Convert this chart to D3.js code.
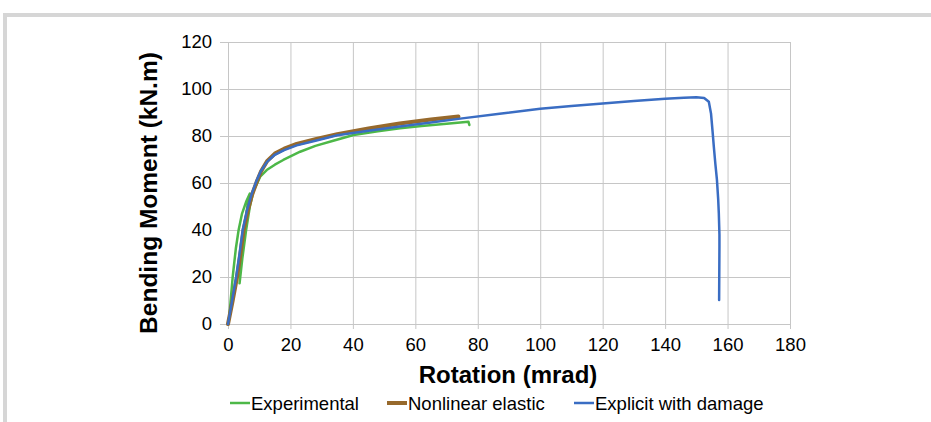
<!DOCTYPE html>
<html lang="en">
<head>
  <meta charset="UTF-8">
  <title>Bending moment vs rotation</title>
  <script src="https://cdnjs.cloudflare.com/ajax/libs/d3/7.8.5/d3.min.js"></script>
  <style>
    body { margin: 0; background: #fff; }
    #chart { width: 931px; height: 422px; }
    text { font-family: "Liberation Sans", Arial, sans-serif; fill: #000; }
  </style>
</head>
<body>
  <div id="chart"></div>
  <script>
    // values
    const xTicks = [0, 20, 40, 60, 80, 100, 120, 140, 160, 180];
    const yTicks = [0, 20, 40, 60, 80, 100, 120];

    const expRot = [0, 0.4, 1.5, 2.5, 3.4, 4.5, 5.8, 7, 6.2, 4.8, 3.7, 4.6, 5.8, 7, 8.1, 10.3, 12.4, 15, 17.7, 23.1, 28, 33.7, 40.2, 48, 55.1, 62, 70, 77, 77.3];
    const expMom = [0, 3, 20, 32, 40, 47, 52, 55.5, 50, 35, 17.3, 28, 40, 50, 56.3, 62.7, 65.5, 67.8, 69.8, 73.3, 75.8, 78, 80.4, 82, 83.3, 84.3, 85.2, 86.1, 84.7];

    const nlRot = [0, 1.5, 2.9, 4, 5, 6.3, 7.7, 9.2, 10.6, 12.5, 15, 18, 22, 28, 35, 45, 55, 65, 73.8];
    const nlMom = [0, 10, 20, 30, 40, 48, 55, 60.5, 65, 69.3, 72.5, 74.6, 76.6, 78.6, 80.8, 83.2, 85.3, 87, 88.3];

    const dmgRot = [0, 1.2, 2.6, 3.7, 4.7, 6, 7.5, 9, 10.5, 12.5, 15, 18, 22, 28, 35, 45, 55, 65, 75, 87, 100, 110, 120, 130, 140, 146, 150, 152.5, 154, 154.7, 155.2, 155.6, 156.1, 156.6, 157, 157.2, 157.4, 157.4, 157.3];
    const dmgMom = [0, 9, 20, 30, 40, 48, 55, 60.5, 65, 69, 72, 74, 76, 78, 80.3, 82.2, 84, 85.7, 87.5, 89.5, 91.6, 92.8, 93.8, 94.9, 95.9, 96.3, 96.5, 96.2, 94.6, 89.6, 82, 75.5, 68, 61.3, 53, 47.1, 38, 32.9, 10.2];

    const seriesNames = ["Experimental", "Nonlinear elastic", "Explicit with damage"];
    const seriesColors = ["#4db848", "#97692c", "#3a6dc3"];
    const seriesWidths = [2.5, 4, 2.5];

    const series = [
      d3.zip(expRot, expMom),
      d3.zip(nlRot, nlMom),
      d3.zip(dmgRot, dmgMom)
    ];

    const svg = d3.select("#chart").append("svg")
      .attr("width", 931)
      .attr("height", 422);

    // grey frame on top and left
    svg.append("rect").attr("x", 3).attr("y", 13).attr("width", 928).attr("height", 4).attr("fill", "#d6d6d6");
    svg.append("rect").attr("x", 3).attr("y", 13).attr("width", 4).attr("height", 409).attr("fill", "#d6d6d6");

    const x = d3.scaleLinear().domain([0, 180]).range([228, 790]);
    const y = d3.scaleLinear().domain([0, 120]).range([324, 42]);

    const gridColor = "#c6c6c6";

    // grid
    svg.append("g")
      .attr("transform", `translate(0,${y(0)})`)
      .call(d3.axisBottom(x).tickValues(xTicks).tickSize(-(y(0) - y(120))).tickFormat(""))
      .call(g => g.select(".domain").remove())
      .call(g => g.selectAll("line").attr("stroke", gridColor));
    svg.append("g")
      .attr("transform", `translate(${x(0)},0)`)
      .call(d3.axisLeft(y).tickValues(yTicks).tickSize(-(x(180) - x(0))).tickFormat(""))
      .call(g => g.select(".domain").remove())
      .call(g => g.selectAll("line").attr("stroke", gridColor));

    // axes
    svg.append("g")
      .attr("transform", `translate(0,${y(0)})`)
      .call(d3.axisBottom(x).tickValues(xTicks).tickSize(5).tickSizeOuter(0).tickPadding(9))
      .call(g => g.select(".domain").attr("stroke", gridColor))
      .call(g => g.selectAll("line").attr("stroke", gridColor))
      .call(g => g.selectAll("text").attr("font-size", 18.5));
    svg.append("g")
      .attr("transform", `translate(${x(0)},0)`)
      .call(d3.axisLeft(y).tickValues(yTicks).tickSize(8).tickSizeOuter(0).tickPadding(8))
      .call(g => g.select(".domain").attr("stroke", gridColor))
      .call(g => g.selectAll("line").attr("stroke", gridColor))
      .call(g => g.selectAll("text").attr("font-size", 18.5));

    // lines
    const line = d3.line()
      .x(d => x(d[0]))
      .y(d => y(d[1]));

    series.forEach((s, i) => {
      svg.append("path")
        .datum(s)
        .attr("fill", "none")
        .attr("stroke", seriesColors[i])
        .attr("stroke-width", seriesWidths[i])
        .attr("stroke-linejoin", "round")
        .attr("stroke-linecap", "round")
        .attr("d", line);
    });

    // axis titles
    svg.append("text")
      .attr("x", 508).attr("y", 383)
      .attr("text-anchor", "middle")
      .attr("font-size", 24).attr("font-weight", "bold")
      .text("Rotation (mrad)");
    svg.append("text")
      .attr("transform", "translate(157,193) rotate(-90)")
      .attr("text-anchor", "middle")
      .attr("font-size", 24.5).attr("font-weight", "bold")
      .text("Bending Moment (kN.m)");

    // legend
    const legendLineX = [230, 387, 574];
    seriesNames.forEach((name, i) => {
      const g = svg.append("g").attr("transform", `translate(${legendLineX[i]},403)`);
      g.append("line")
        .attr("x1", 0).attr("x2", 20)
        .attr("stroke", seriesColors[i])
        .attr("stroke-width", i === 1 ? 4 : 2.5);
      g.append("text")
        .attr("x", 21).attr("y", 6.5)
        .attr("font-size", 18.5)
        .text(name);
    });
  </script>
</body>
</html>
